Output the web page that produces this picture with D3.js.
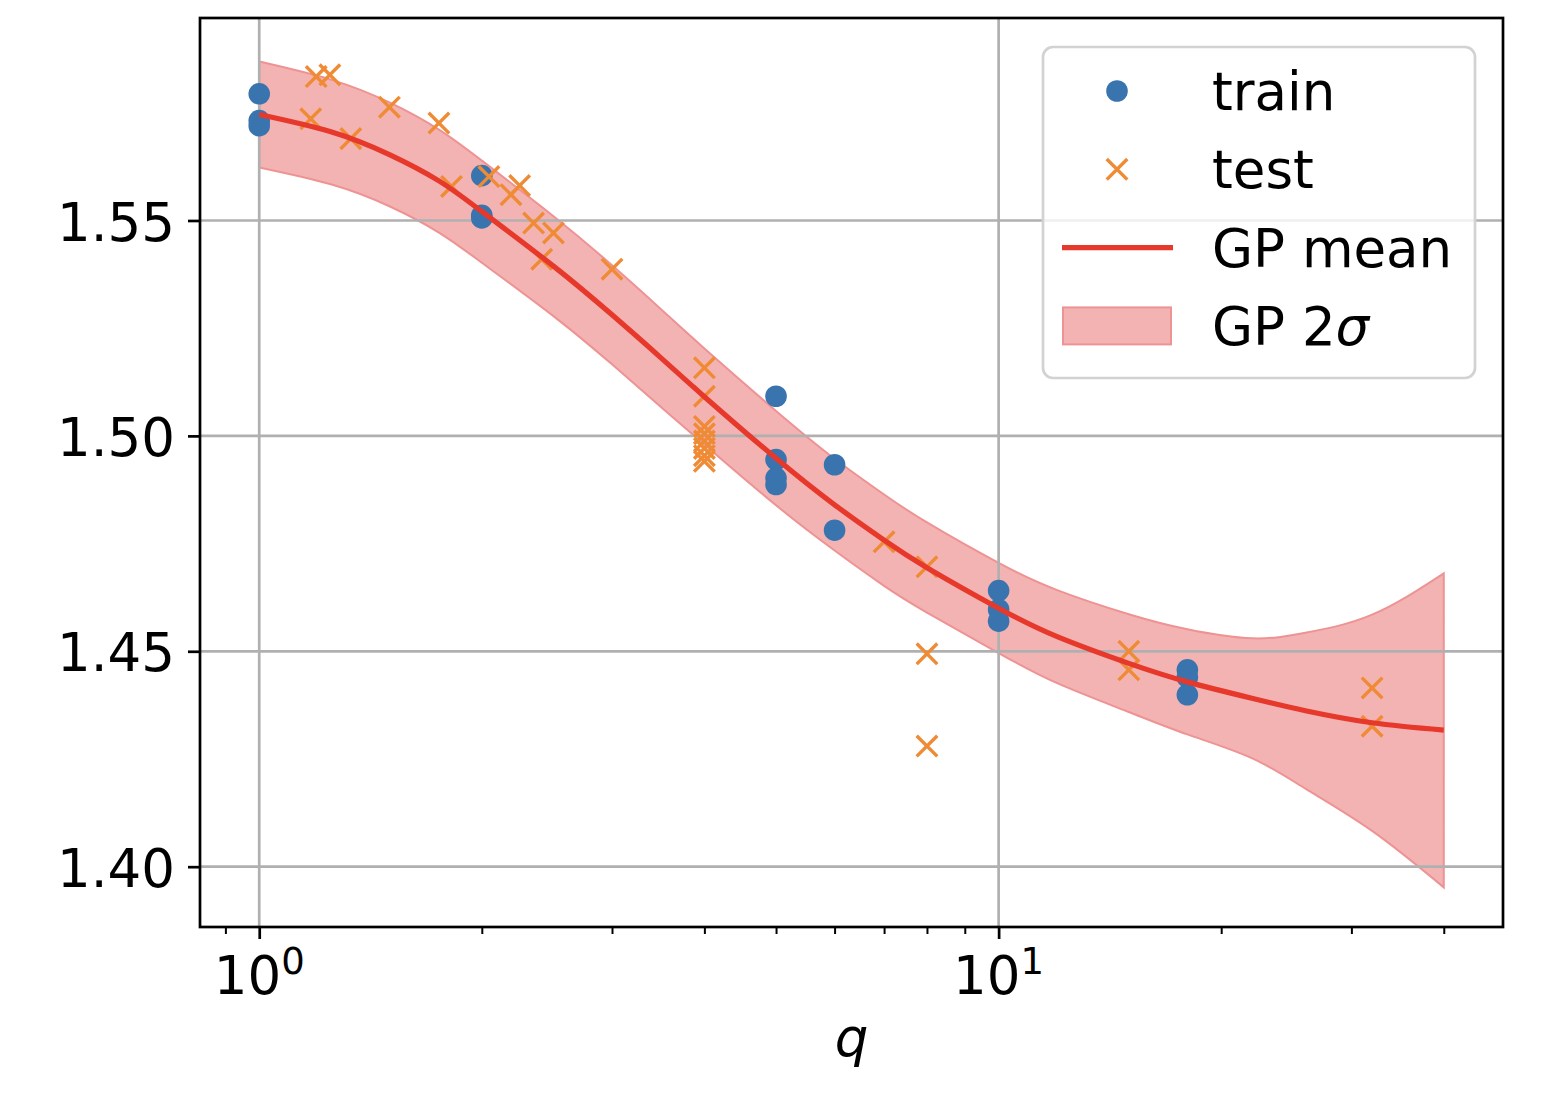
<!DOCTYPE html>
<html>
<head>
<meta charset="utf-8">
<script src="https://cdnjs.cloudflare.com/ajax/libs/d3/7.8.5/d3.min.js"></script>
<style>
  body { margin: 0; background: #ffffff; }
  svg { display: block; font-family: "DejaVu Sans", sans-serif; }
</style>
</head>
<body>
<div id="chart"></div>
<script>
//--------------------------------------------------
// Data
//--------------------------------------------------

// training points
var trainQ = [1, 1, 1, 2, 2, 2, 5, 5, 5, 5, 6, 6, 10, 10, 10, 18, 18, 18];
var trainY = [1.5794, 1.5732, 1.5720, 1.5604, 1.5512, 1.5506,
              1.5092, 1.4945, 1.4902, 1.4887, 1.4933, 1.4781,
              1.4641, 1.4597, 1.4570, 1.4457, 1.4440, 1.4399];

// test points
var testQ = [1.174, 1.194, 1.246, 1.33, 1.5, 1.75, 1.82, 2.045, 2.19, 2.25, 2.35, 2.41, 2.5, 3,
             4, 4, 4, 4, 4, 4, 4, 4, 7, 8, 8, 8, 15, 15, 32, 32];
var testY = [1.5736, 1.5834, 1.5838, 1.5690, 1.5763, 1.5726, 1.5579, 1.5602, 1.5560, 1.5581,
             1.5494, 1.5410, 1.5471, 1.5387,
             1.5158, 1.5092, 1.5022, 1.5005, 1.4988, 1.4971, 1.4954, 1.4941,
             1.4754, 1.4696, 1.4494, 1.4280, 1.4500, 1.4457, 1.4415, 1.4326];

// GP posterior mean and 2 sigma band
var gpQ     = [1, 1.25, 1.5, 1.75, 2, 2.5, 3, 3.5, 4, 5, 6, 7, 8, 10, 12, 15, 18, 22, 26, 32, 40];
var gpMean  = [1.5746, 1.5706, 1.5653, 1.5592, 1.5521, 1.5394, 1.5281, 1.5180, 1.5091, 1.4948,
               1.4840, 1.4758, 1.4694, 1.4600, 1.4534, 1.4472, 1.4429, 1.4391, 1.4362, 1.4334, 1.4317];
var gpUpper = [1.5869, 1.5827, 1.5774, 1.5711, 1.5639, 1.5510, 1.5396, 1.5293, 1.5203, 1.5058,
               1.4947, 1.4864, 1.4799, 1.4705, 1.4642, 1.4586, 1.4551, 1.4530, 1.4543, 1.4585, 1.4681];
var gpLower = [1.5623, 1.5584, 1.5533, 1.5472, 1.5402, 1.5278, 1.5166, 1.5066, 1.4980, 1.4839,
               1.4734, 1.4652, 1.4590, 1.4496, 1.4426, 1.4359, 1.4307, 1.4252, 1.4181, 1.4083, 1.3952];

// ticks
var xMajorTicks = [1, 10];
var xMajorExp = ['0', '1'];
var xMinorTicks = [0.9, 2, 3, 4, 5, 6, 7, 8, 9, 20, 30, 40];
var yTicks = [1.40, 1.45, 1.50, 1.55];
var yDomain = [1.386, 1.597];

var legendLabels = ['train', 'test', 'GP mean', 'GP 2'];

//--------------------------------------------------
// Styles
//--------------------------------------------------
var trainColor = '#3a74ae';
var testColor = '#ef8b35';
var meanColor = '#e6392b';
var bandFill = '#f4b3b3';
var bandEdge = '#ee9393';
var gridColor = '#b0b0b0';
var fontSize = 53;
var lw = 2.7;

var margin = {top: 18, left: 200};
var width = 1303, height = 909;

var svg = d3.select('#chart').append('svg')
  .attr('width', 1558)
  .attr('height', 1098);

var g = svg.append('g')
  .attr('transform', 'translate(' + margin.left + ',' + margin.top + ')');

// log x domain padded 5% like matplotlib
var lo = Math.log10(d3.min(gpQ)), hi = Math.log10(d3.max(gpQ)), pad = (hi - lo) * 0.05;
var x = d3.scaleLog()
  .domain([Math.pow(10, lo - pad), Math.pow(10, hi + pad)])
  .range([0, width]);

var y = d3.scaleLinear()
  .domain(yDomain)
  .range([height, 0]);

var band = gpQ.map(function(q, i) { return {q: q, lo: gpLower[i], hi: gpUpper[i], m: gpMean[i]}; });

// 2 sigma band
g.append('path')
  .datum(band)
  .attr('fill', bandFill)
  .attr('stroke', bandEdge)
  .attr('stroke-width', 2)
  .attr('d', d3.area()
    .x(function(d) { return x(d.q); })
    .y0(function(d) { return y(d.lo); })
    .y1(function(d) { return y(d.hi); })
    .curve(d3.curveNatural));

// grid
g.append('g').selectAll('line')
  .data(yTicks).enter().append('line')
    .attr('x1', 0).attr('x2', width)
    .attr('y1', function(d) { return y(d); })
    .attr('y2', function(d) { return y(d); })
    .attr('stroke', gridColor).attr('stroke-width', lw);

g.append('g').selectAll('line')
  .data(xMajorTicks).enter().append('line')
    .attr('y1', 0).attr('y2', height)
    .attr('x1', function(d) { return x(d); })
    .attr('x2', function(d) { return x(d); })
    .attr('stroke', gridColor).attr('stroke-width', lw);

// train points
g.append('g').selectAll('circle')
  .data(trainQ).enter().append('circle')
    .attr('cx', function(d) { return x(d); })
    .attr('cy', function(d, i) { return y(trainY[i]); })
    .attr('r', 10.8)
    .attr('fill', trainColor);

// test points
var cs = 10.3;
function crossPath(cx, cy) {
  return 'M' + (cx - cs) + ',' + (cy - cs) + 'L' + (cx + cs) + ',' + (cy + cs) +
         'M' + (cx - cs) + ',' + (cy + cs) + 'L' + (cx + cs) + ',' + (cy - cs);
}
g.append('g').selectAll('path')
  .data(testQ).enter().append('path')
    .attr('d', function(d, i) { return crossPath(x(d), y(testY[i])); })
    .attr('stroke', testColor)
    .attr('stroke-width', 3.4)
    .attr('fill', 'none');

// GP mean
g.append('path')
  .datum(band)
  .attr('fill', 'none')
  .attr('stroke', meanColor)
  .attr('stroke-width', 5.2)
  .attr('d', d3.line()
    .x(function(d) { return x(d.q); })
    .y(function(d) { return y(d.m); })
    .curve(d3.curveNatural));

// y axis
var yAxis = g.append('g')
  .call(d3.axisLeft(y).tickValues(yTicks).tickFormat(d3.format('.2f')).tickSize(12).tickPadding(13));
yAxis.select('.domain').remove();
yAxis.selectAll('line').attr('stroke', '#000').attr('stroke-width', lw);
yAxis.selectAll('text')
  .attr('font-family', 'DejaVu Sans')
  .attr('font-size', fontSize)
  .attr('fill', '#000')
  .attr('dy', '0.37em');

// x axis: major + minor ticks
var xAxis = g.append('g')
  .attr('transform', 'translate(0,' + height + ')')
  .call(d3.axisBottom(x).tickValues(xMajorTicks).tickFormat('').tickSize(12));
xAxis.select('.domain').remove();
xAxis.selectAll('line').attr('stroke', '#000').attr('stroke-width', lw);

var xMinor = g.append('g')
  .attr('transform', 'translate(0,' + height + ')')
  .call(d3.axisBottom(x).tickValues(xMinorTicks).tickFormat('').tickSize(7));
xMinor.select('.domain').remove();
xMinor.selectAll('line').attr('stroke', '#000').attr('stroke-width', 2);

// 10^n labels
var xl = g.append('g').selectAll('text')
  .data(xMajorTicks).enter().append('text')
    .attr('x', function(d) { return x(d); })
    .attr('y', height + 67)
    .attr('text-anchor', 'middle')
    .attr('font-size', fontSize)
    .attr('fill', '#000');
xl.append('tspan').text('10');
xl.append('tspan')
  .attr('font-size', 37)
  .attr('dy', -20)
  .text(function(d, i) { return xMajorExp[i]; });

// axis title
g.append('text')
  .attr('x', width / 2)
  .attr('y', height + 129)
  .attr('text-anchor', 'middle')
  .attr('font-size', fontSize)
  .attr('font-style', 'italic')
  .attr('fill', '#000')
  .text('q');

// frame
g.append('rect')
  .attr('width', width).attr('height', height)
  .attr('fill', 'none')
  .attr('stroke', '#000')
  .attr('stroke-width', lw);

//--------------------------------------------------
// Legend
//--------------------------------------------------
var legend = svg.append('g').attr('class', 'legend');
legend.append('rect')
  .attr('x', 1043).attr('y', 47)
  .attr('width', 432).attr('height', 331)
  .attr('rx', 10).attr('ry', 10)
  .attr('fill', '#ffffff').attr('fill-opacity', 0.8)
  .attr('stroke', '#d2d2d2').attr('stroke-width', lw);

var rowY = function(i) { return 91 + i * 78.3; };
var hx = 1117;

legend.append('circle')
  .attr('cx', hx).attr('cy', rowY(0)).attr('r', 10.8)
  .attr('fill', trainColor);
legend.append('path')
  .attr('d', crossPath(hx, rowY(1)))
  .attr('stroke', testColor).attr('stroke-width', 3.4);
legend.append('line')
  .attr('x1', 1062).attr('x2', 1173)
  .attr('y1', rowY(2)).attr('y2', rowY(2))
  .attr('stroke', meanColor).attr('stroke-width', 5.2);
legend.append('rect')
  .attr('x', 1063).attr('y', rowY(3) - 18.5)
  .attr('width', 108).attr('height', 37)
  .attr('fill', bandFill).attr('stroke', bandEdge).attr('stroke-width', 2);

var lt = legend.selectAll('text.lab')
  .data(legendLabels).enter().append('text')
    .attr('class', 'lab')
    .attr('x', 1212)
    .attr('y', function(d, i) { return rowY(i) + 19; })
    .attr('font-size', fontSize)
    .attr('fill', '#000')
    .text(function(d) { return d; });
lt.filter(function(d, i) { return i === 3; })
  .append('tspan')
  .attr('font-style', 'italic')
  .text('σ');
</script>
</body>
</html>
